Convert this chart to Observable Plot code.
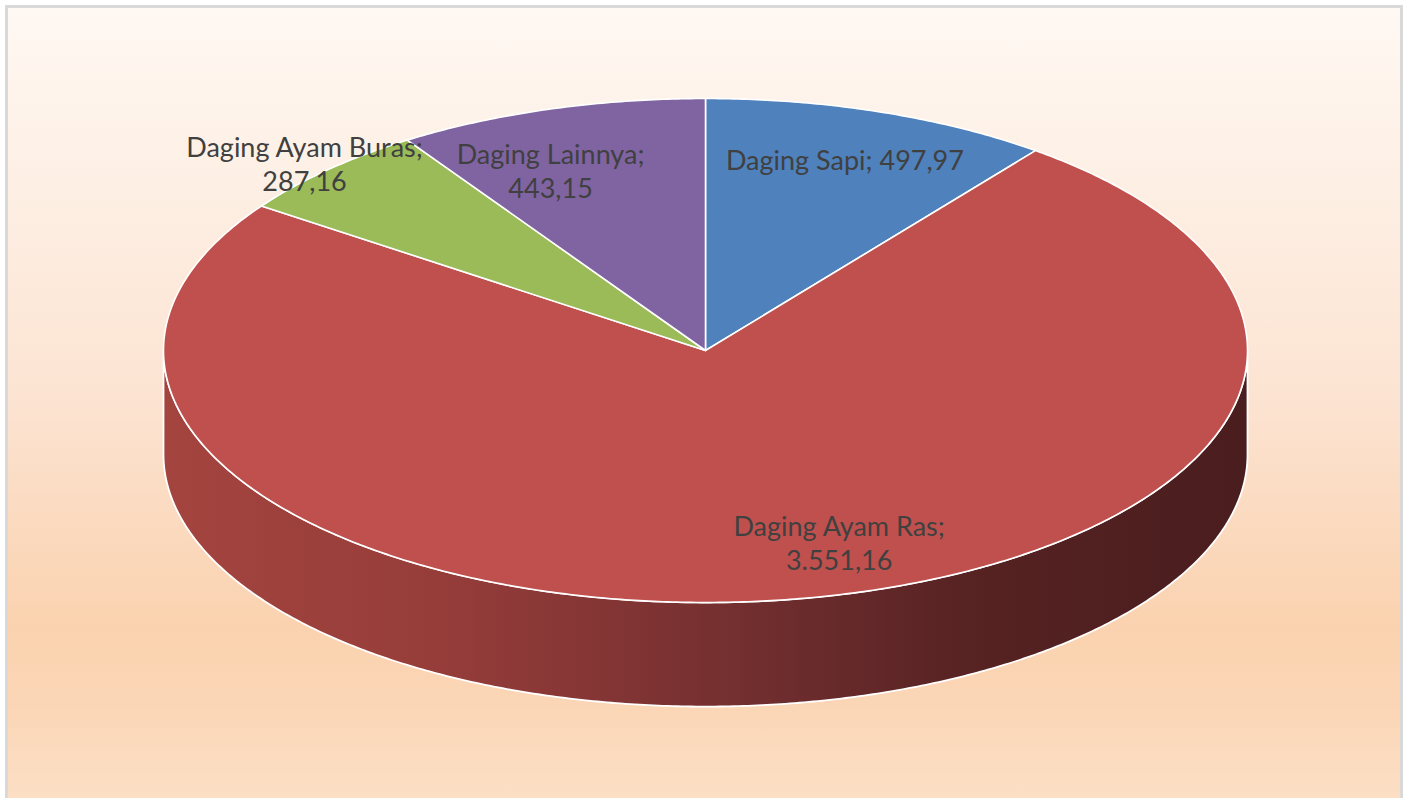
<!DOCTYPE html>
<html>
<head>
<meta charset="utf-8">
<script src="https://cdn.jsdelivr.net/npm/d3@7"></script>
<script src="https://cdn.jsdelivr.net/npm/@observablehq/plot@0.6"></script>
<style>
  html, body { margin: 0; padding: 0; width: 1412px; height: 798px; overflow: hidden; background: #ffffff; }
  #frame {
    position: absolute; left: 5px; top: 5px; width: 1398px; height: 800px;
    border: 3px solid #d9d9d9; box-sizing: border-box;
    background: linear-gradient(to bottom, #fff8f3 0%, #fdeee2 25%, #fce3d1 50%, #fad2af 78%, #fbd6b6 88%, #fcdfc6 100%);
  }
  #chart { position: absolute; left: 0; top: 0; }
</style>
</head>
<body>
<div id="frame"></div>
<div id="chart"></div>
<script>
// ---- data ----
const categories = ["Daging Sapi", "Daging Ayam Ras", "Daging Ayam Buras", "Daging Lainnya"];
const values = [497.97, 3551.16, 287.16, 443.15];
const valueLabels = ["497,97", "3.551,16", "287,16", "443,15"];
const colors = ["#4f81bd", "#c0504d", "#9bbb59", "#8064a2"];

// ---- layout (not data) ----
const labelRadius = [0.8, 0.8, 1.05, 0.77];
const labelTurn = [0, -9.2, -0.6, -5.1];
const labelSplit = [false, true, true, true];
const depth = 0.413;          // side wall depth in y units
const rad = Math.PI / 180;

const total = d3.sum(values);
let start = 0;
const slices = categories.map((name, i) => {
  const a0 = start, a1 = start + values[i] / total * 360;
  start = a1;
  return {name, a0, a1, mid: (a0 + a1) / 2, i};
});

// polygon vertices of the top face slices
const slicePts = [];
for (const s of slices) {
  slicePts.push({name: s.name, x: 0, y: 0});
  const n = Math.max(2, Math.ceil((s.a1 - s.a0) / 0.5));
  for (let k = 0; k <= n; k++) {
    const t = (s.a0 + (s.a1 - s.a0) * k / n) * rad;
    slicePts.push({name: s.name, x: Math.sin(t), y: Math.cos(t)});
  }
}

// front side wall (visible half: 90° .. 270°)
const sidePts = [];
for (let k = 0; k <= 360; k++) {
  const t = (90 + k * 0.5) * rad;
  sidePts.push({x: Math.sin(t), y: Math.cos(t)});
}
for (let k = 360; k >= 0; k--) {
  const t = (90 + k * 0.5) * rad;
  sidePts.push({x: Math.sin(t), y: Math.cos(t) - depth});
}

const labels = slices.map((s, i) => {
  const t = (s.mid + labelTurn[i]) * rad;
  return {
    x: labelRadius[i] * Math.sin(t),
    y: labelRadius[i] * Math.cos(t),
    text: s.name + ";" + (labelSplit[i] ? "\n" : " ") + valueLabels[i]
  };
});

const plot = Plot.plot({
  width: 1412,
  height: 798,
  margin: 0,
  style: {background: "transparent", overflow: "visible"},
  x: {domain: [-1, 1], range: [163, 1247], axis: null},
  y: {domain: [-1, 1], range: [602, 98], axis: null},
  color: {domain: categories, range: colors},
  marks: [
    Plot.line(sidePts, {x: "x", y: "y", fill: "url(#sideGrad)", stroke: "white", strokeWidth: 1.8, curve: "linear-closed"}),
    Plot.line(slicePts, {x: "x", y: "y", z: "name", fill: "name", stroke: "white", strokeWidth: 1.6, strokeLinejoin: "round", curve: "linear-closed"}),
    Plot.text(labels, {x: "x", y: "y", text: "text", fontSize: 27, lineHeight: 1.26, fill: "#404040",
      fontFamily: "Lato, 'Open Sans', sans-serif", textAnchor: "middle", lineAnchor: "middle"})
  ]
});

const defs = d3.select(plot).insert("defs", ":first-child");
const g = defs.append("linearGradient").attr("id", "sideGrad").attr("x1", "0").attr("x2", "1").attr("y1", "0").attr("y2", "0");
[["0%", "#a4443f"], ["25%", "#963d3a"], ["45%", "#7e3333"], ["60%", "#6a2b2c"], ["75%", "#562222"], ["100%", "#4a1d1e"]]
  .forEach(([o, c]) => g.append("stop").attr("offset", o).attr("stop-color", c));

document.getElementById("chart").appendChild(plot);
</script>
</body>
</html>
